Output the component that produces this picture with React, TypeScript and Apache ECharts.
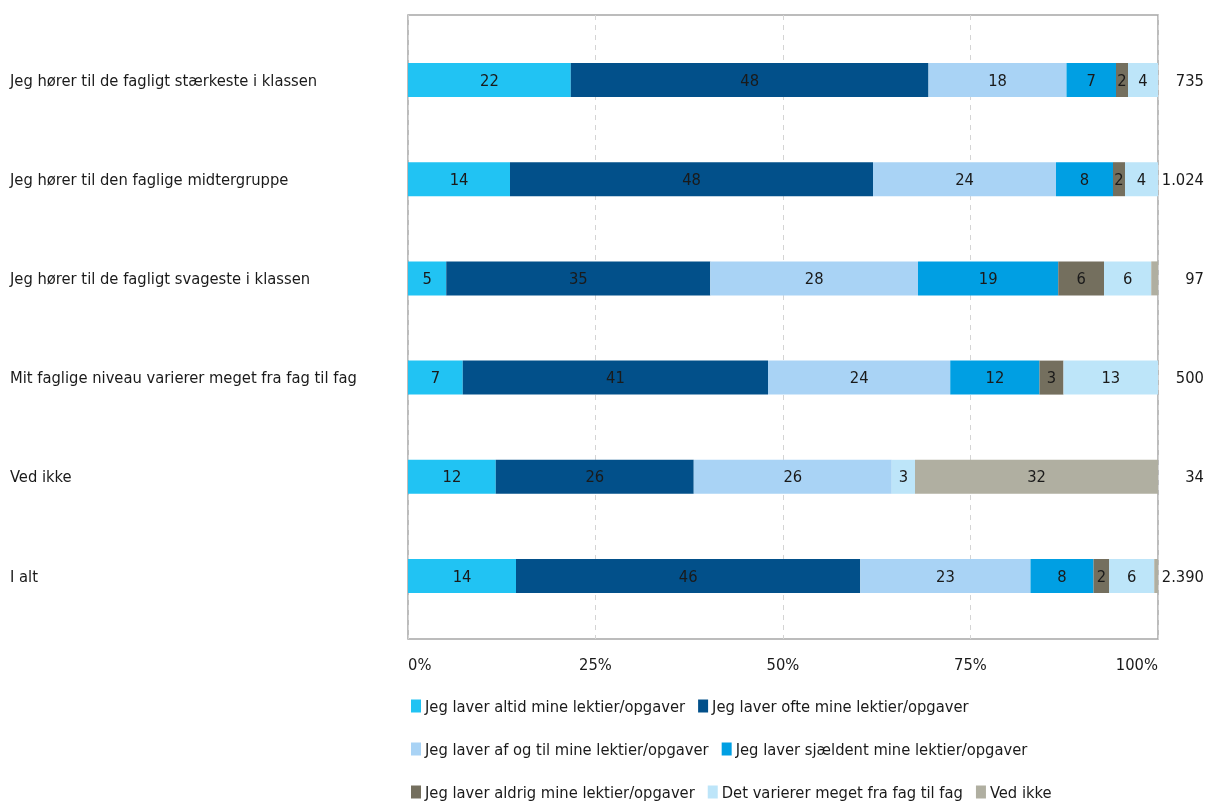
import React, { useEffect, useRef } from "react";
import * as echarts from "echarts";

const categories = [
  "Jeg hører til de fagligt stærkeste i klassen",
  "Jeg hører til den faglige midtergruppe",
  "Jeg hører til de fagligt svageste i klassen",
  "Mit faglige niveau varierer meget fra fag til fag",
  "Ved ikke",
  "I alt",
];
const nLabels = ["735", "1.024", "97", "500", "34", "2.390"];

const seriesNames = [
  "Jeg laver altid mine lektier/opgaver",
  "Jeg laver ofte mine lektier/opgaver",
  "Jeg laver af og til mine lektier/opgaver",
  "Jeg laver sjældent mine lektier/opgaver",
  "Jeg laver aldrig mine lektier/opgaver",
  "Det varierer meget fra fag til fag",
  "Ved ikke",
];
const altid = [21.7, 13.6, 5.1, 7.3, 11.7, 14.4];
const ofte = [47.7, 48.4, 35.2, 40.7, 26.4, 45.9];
const afOgTil = [18.4, 24.4, 27.7, 24.3, 26.4, 22.7];
const sjaeldent = [6.6, 7.6, 18.7, 11.9, 0, 8.4];
const aldrig = [1.6, 1.6, 6.1, 3.2, 0, 2.1];
const varierer = [4.0, 4.4, 6.3, 12.6, 3.1, 6.0];
const vedIkke = [0, 0, 0.9, 0, 32.4, 0.5];
const tickValues = [0, 25, 50, 75, 100];

const seriesData = [altid, ofte, afOgTil, sjaeldent, aldrig, varierer, vedIkke];
const colors = ["#21c3f3", "#02508a", "#a9d3f5", "#009fe3", "#746f5e", "#bde5f9", "#b0afa1"];

const FONT = "DejaVu Sans Condensed";

export default function App() {
  const ref = useRef<HTMLDivElement>(null);
  useEffect(() => {
    const chart = echarts.init(ref.current!, null, { renderer: "svg" });
    const textStyle = { fontFamily: FONT, fontSize: 16.4, color: "#1a1a1a" };
    const legendCommon = {
      left: 406,
      icon: "rect",
      itemWidth: 10,
      itemHeight: 13,
      itemGap: 13,
      textStyle: { ...textStyle, padding: [0, 0, 0, -1] },
      selectedMode: false,
    };
    chart.setOption({
      animation: false,
      color: colors,
      textStyle: { fontFamily: FONT },
      grid: [
        { left: 408, top: 15, width: 750, height: 624, show: true, borderColor: "#a6a6a6", borderWidth: 1.5, containLabel: false },
        { left: 408, top: 30.4, width: 750, height: 595.2, containLabel: false },
      ],
      xAxis: [
        {
          gridIndex: 0,
          type: "value",
          min: 0,
          max: 100,
          interval: 25,
          axisLine: { show: false },
          axisTick: { show: false },
          splitLine: { show: true, lineStyle: { color: "#d4d4d4", type: [5, 5], width: 1 } },
          axisLabel: {
            ...textStyle,
            margin: 17,
            formatter: (v: number) => (tickValues.includes(v) ? v + "%" : ""),
            alignMinLabel: "left",
            alignMaxLabel: "right",
          },
        },
        { gridIndex: 1, type: "value", min: 0, max: 100, show: false },
      ],
      yAxis: [
        { gridIndex: 0, type: "value", show: false },
        {
          gridIndex: 1,
          type: "category",
          data: categories,
          inverse: true,
          axisLine: { show: false },
          axisTick: { show: false },
          axisLabel: { ...textStyle, align: "left", margin: 398 },
        },
        {
          gridIndex: 1,
          type: "category",
          position: "right",
          data: nLabels,
          inverse: true,
          axisLine: { show: false },
          axisTick: { show: false },
          axisLabel: { ...textStyle, align: "right", margin: 46 },
        },
      ],
      legend: [
        { ...legendCommon, top: 693, data: seriesNames.slice(0, 2) },
        { ...legendCommon, top: 736, data: seriesNames.slice(2, 4) },
        { ...legendCommon, top: 779, data: seriesNames.slice(4, 7) },
      ],
      series: seriesData.map((d, i) => ({
        name: seriesNames[i],
        type: "bar",
        stack: "total",
        xAxisIndex: 1,
        yAxisIndex: 1,
        barWidth: 34,
        data: d,
        itemStyle: { color: colors[i] },
        label: {
          show: true,
          position: "inside",
          ...textStyle,
          formatter: (p: any) => (p.value >= 1.5 ? String(Math.round(p.value)) : ""),
        },
      })),
    });
    return () => chart.dispose();
  }, []);
  return <div ref={ref} style={{ position: "fixed", left: 0, top: 0, width: 1209, height: 803 }} />;
}
